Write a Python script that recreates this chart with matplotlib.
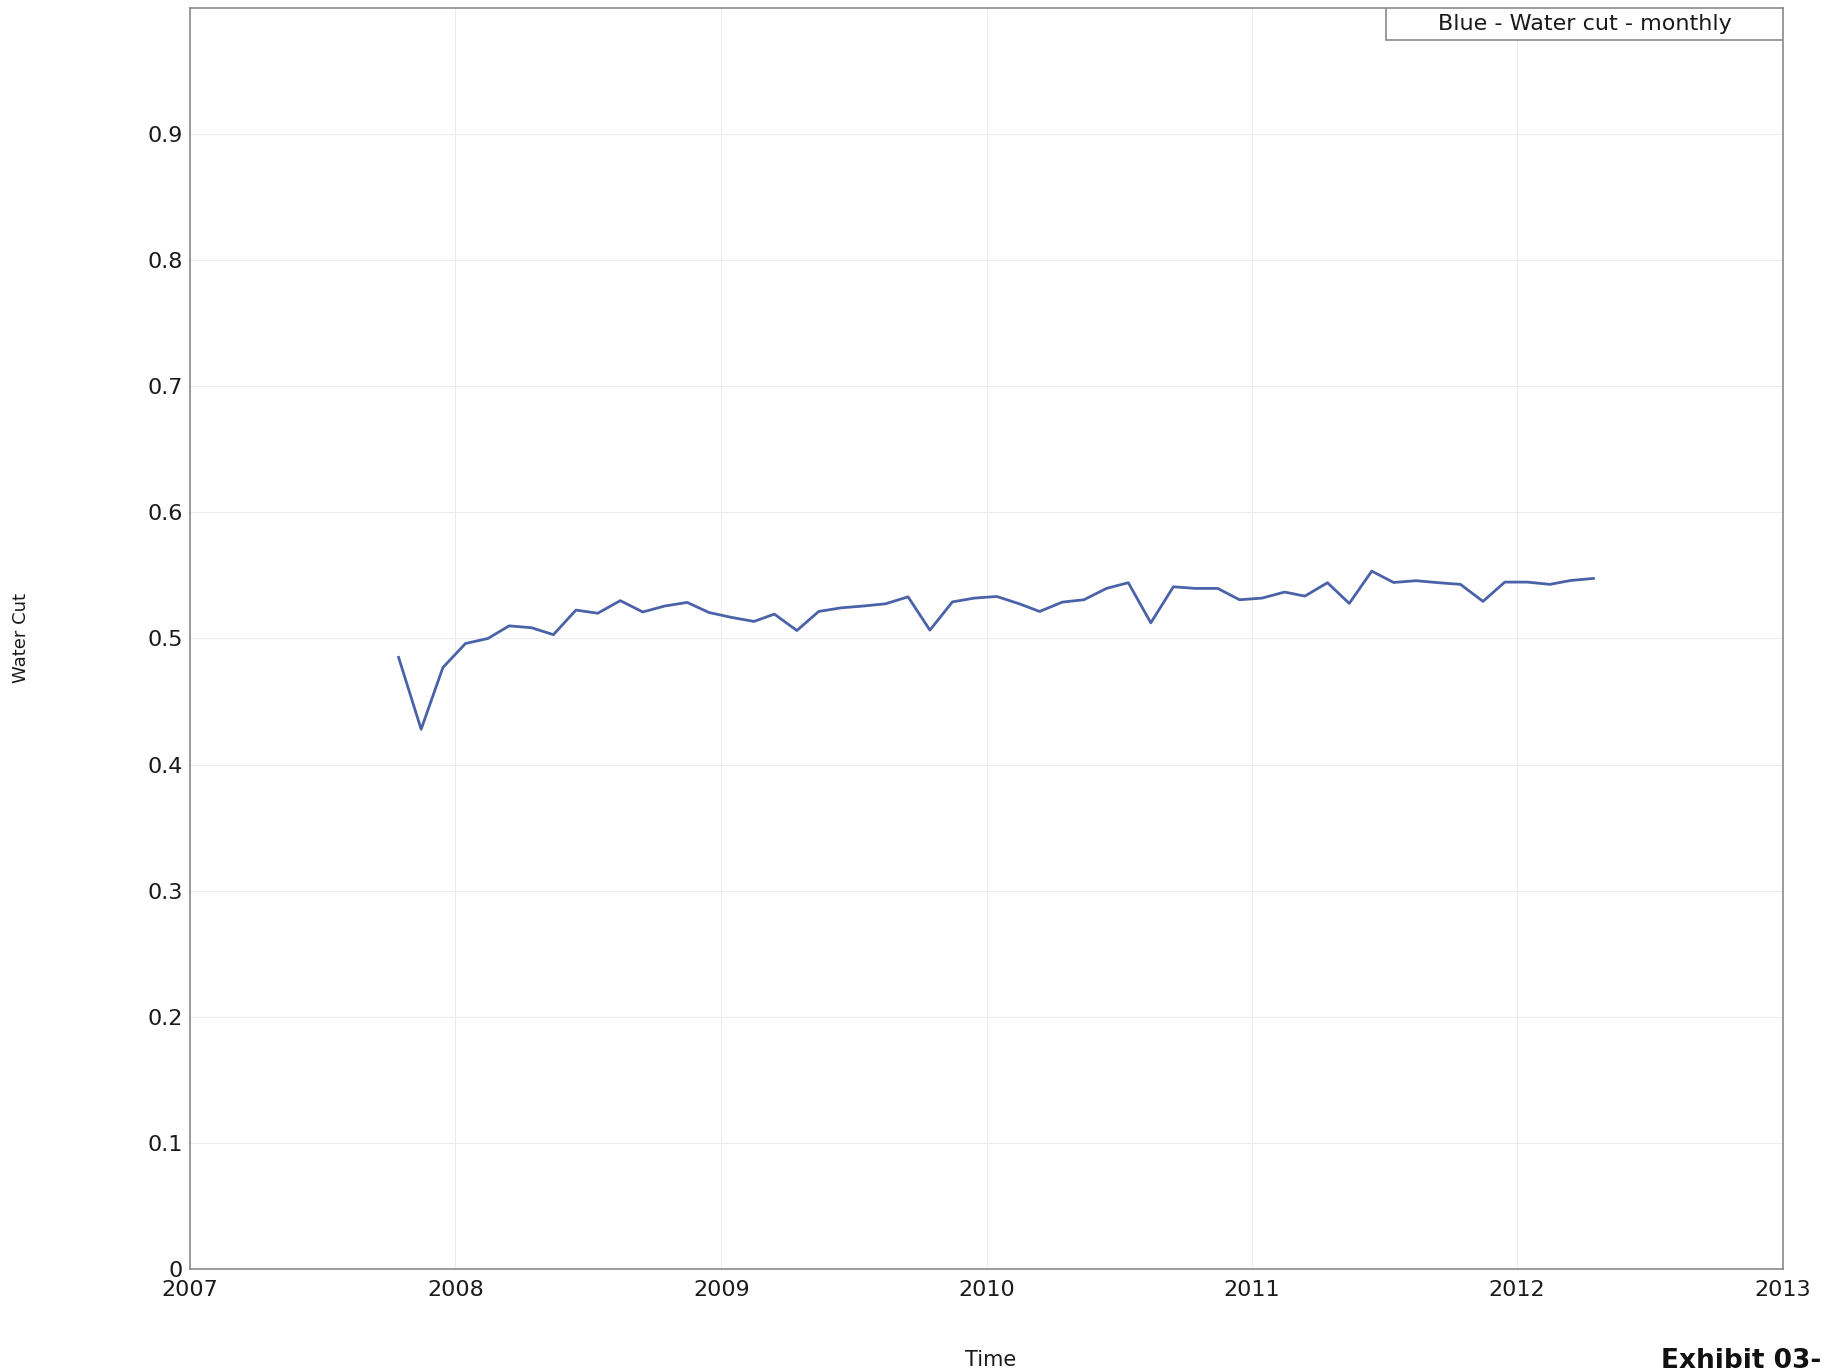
import pandas as pd
import matplotlib
matplotlib.use('Agg')
import matplotlib.pyplot as plt
import matplotlib.dates as mdates
from matplotlib.patches import Rectangle

# monthly water cut, Oct 2007 - Apr 2012
months = ['2007-10', '2007-11', '2007-12',
          '2008-01', '2008-02', '2008-03', '2008-04', '2008-05', '2008-06',
          '2008-07', '2008-08', '2008-09', '2008-10', '2008-11', '2008-12',
          '2009-01', '2009-02', '2009-03', '2009-04', '2009-05', '2009-06',
          '2009-07', '2009-08', '2009-09', '2009-10', '2009-11', '2009-12',
          '2010-01', '2010-02', '2010-03', '2010-04', '2010-05', '2010-06',
          '2010-07', '2010-08', '2010-09', '2010-10', '2010-11', '2010-12',
          '2011-01', '2011-02', '2011-03', '2011-04', '2011-05', '2011-06',
          '2011-07', '2011-08', '2011-09', '2011-10', '2011-11', '2011-12',
          '2012-01', '2012-02', '2012-03', '2012-04']
water_cut = [0.485, 0.428, 0.477,
             0.496, 0.500, 0.510, 0.5085, 0.503, 0.5225, 0.520, 0.530, 0.521, 0.5257, 0.5286, 0.5206,
             0.5167, 0.5135, 0.5193, 0.5063, 0.5214, 0.5243, 0.5257, 0.5275, 0.533, 0.5066, 0.529, 0.532,
             0.5333, 0.5275, 0.5214, 0.5288, 0.5307, 0.5397, 0.5442, 0.5124, 0.541, 0.5397, 0.5397, 0.5307,
             0.532, 0.5368, 0.5336, 0.5442, 0.5278, 0.5534, 0.5444, 0.5458, 0.5442, 0.5429, 0.5294, 0.5447,
             0.5447, 0.5429, 0.546, 0.5476]
y_ticks = [0, 0.1, 0.2, 0.3, 0.4, 0.5, 0.6, 0.7, 0.8, 0.9]
y_labels = ['0', '0.1', '0.2', '0.3', '0.4', '0.5', '0.6', '0.7', '0.8', '0.9']
legend_text = 'Blue - Water cut - monthly'

dates = pd.to_datetime([m + '-15' for m in months])

plt.rcParams['font.family'] = ['DejaVu Sans']

fig = plt.figure(figsize=(18.27, 13.72), dpi=100)
ax = fig.add_axes([0.104, 0.0751, 0.872, 0.9191])

ax.plot(dates, water_cut, color='#4a62a8', linewidth=2.0)

ax.set_xlim(pd.Timestamp('2007-01-01'), pd.Timestamp('2013-01-01'))
ax.set_ylim(0, 1.0)
ax.xaxis.set_major_locator(mdates.YearLocator())
ax.xaxis.set_major_formatter(mdates.DateFormatter('%Y'))
ax.set_yticks(y_ticks)
ax.set_yticklabels(y_labels)
ax.tick_params(length=0, labelsize=16, colors='#1a1a1a')
ax.tick_params(axis='x', pad=8)
ax.tick_params(axis='y', pad=5)
ax.grid(True, color='#ececec', linewidth=0.7)
for s in ax.spines.values():
    s.set_color('#8a8a8a')
    s.set_linewidth(1.2)

# legend box in the top right corner
ax.add_patch(Rectangle((0.7508, 0.9746), 0.2492, 0.0254, transform=ax.transAxes,
                       facecolor='white', edgecolor='#8a8a8a', linewidth=1.2, zorder=5))
ax.text(0.8754, 0.9873, legend_text, transform=ax.transAxes, ha='center', va='center',
        fontsize=16, color='#1a1a1a', zorder=6)

fig.text(0.0115, 0.535, 'Water Cut', rotation=90, ha='center', va='center', fontsize=13, color='#1a1a1a')
fig.text(0.542, 0.0087, 'Time', ha='center', va='center', fontsize=15, color='#1a1a1a')
fig.text(0.909, 0.003, 'Exhibit 03-', ha='left', va='baseline', fontsize=19,
         fontweight='bold', color='#111111')

fig.savefig('out.png', dpi=100)
